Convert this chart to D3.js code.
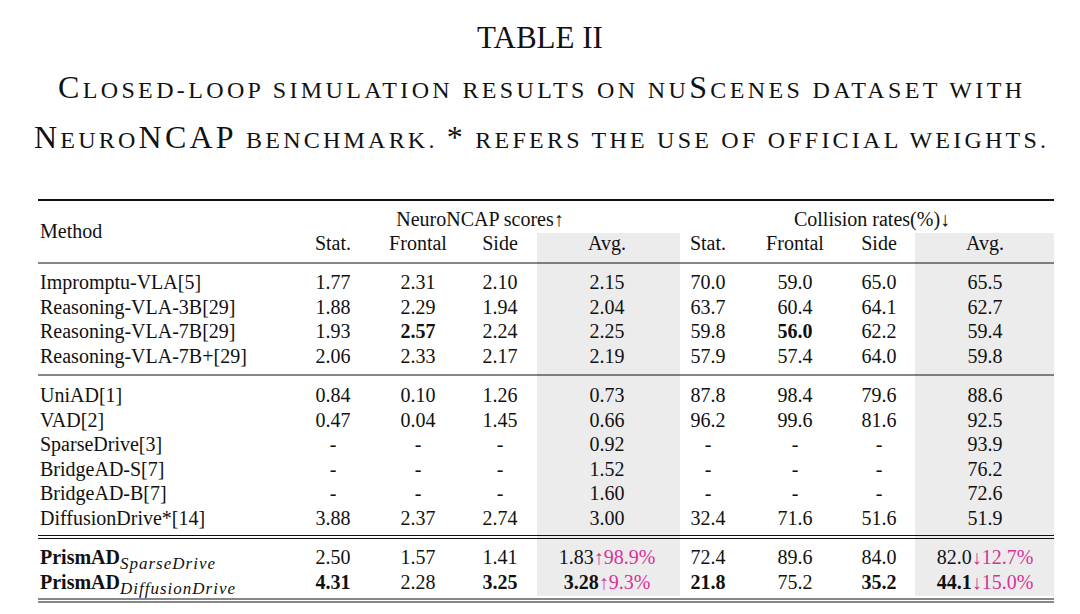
<!DOCTYPE html>
<html><head><meta charset="utf-8">
<script src="https://cdn.jsdelivr.net/npm/d3@7"></script>
<style>body{margin:0;background:#fff}text{font-family:"Liberation Serif","DejaVu Serif",serif;fill:#111}</style>
</head><body><svg id="c" width="1080" height="614"></svg>
<script>
const columns = ["Stat.", "Frontal", "Side", "Avg.", "Stat.", "Frontal", "Side", "Avg."];
const methods = ["Impromptu-VLA[5]", "Reasoning-VLA-3B[29]", "Reasoning-VLA-7B[29]", "Reasoning-VLA-7B+[29]",
  "UniAD[1]", "VAD[2]", "SparseDrive[3]", "BridgeAD-S[7]", "BridgeAD-B[7]", "DiffusionDrive*[14]",
  "PrismAD", "PrismAD"];
const subs = ["", "", "", "", "", "", "", "", "", "", "SparseDrive", "DiffusionDrive"];
const values = [
  ["1.77","2.31","2.10","2.15","70.0","59.0","65.0","65.5"],
  ["1.88","2.29","1.94","2.04","63.7","60.4","64.1","62.7"],
  ["1.93","2.57","2.24","2.25","59.8","56.0","62.2","59.4"],
  ["2.06","2.33","2.17","2.19","57.9","57.4","64.0","59.8"],
  ["0.84","0.10","1.26","0.73","87.8","98.4","79.6","88.6"],
  ["0.47","0.04","1.45","0.66","96.2","99.6","81.6","92.5"],
  ["-","-","-","0.92","-","-","-","93.9"],
  ["-","-","-","1.52","-","-","-","76.2"],
  ["-","-","-","1.60","-","-","-","72.6"],
  ["3.88","2.37","2.74","3.00","32.4","71.6","51.6","51.9"],
  ["2.50","1.57","1.41","1.83","72.4","89.6","84.0","82.0"],
  ["4.31","2.28","3.25","3.28","21.8","75.2","35.2","44.1"]
];
const bold = [[],[],[1,5],[],[],[],[],[],[],[],[],[0,2,3,4,6,7]];
const deltas = {10: {3: "↑98.9%", 7: "↓12.7%"}, 11: {3: "↑9.3%", 7: "↓15.0%"}};

const svg = d3.select("#c");
const L = 38, R = 1054;
const cx = [333, 418, 500, 607, 708, 795, 879, 985];
const colX = i => cx[i];
const rowY = i => i < 4 ? 282 + i * 24.5 : i < 10 ? 395 + (i - 4) * 24.6 : 557 + (i - 10) * 24.5;

// title
svg.append("text").attr("x", 540).attr("y", 48).attr("text-anchor", "middle").attr("font-size", 31).text("TABLE II");
function smallCaps(y, len, parts) {
  const t = svg.append("text").attr("x", 540).attr("y", y).attr("text-anchor", "middle")
    .attr("textLength", len).attr("lengthAdjust", "spacing");
  parts.forEach(p => t.append("tspan").attr("font-size", p[1] ? 32 : 24).text(p[1] ? p[0] : p[0].toUpperCase()));
}
smallCaps(98, 964, [["C",1],["losed-loop simulation results on nu"],["S",1],["cenes dataset with"]]);
smallCaps(148, 1012, [["N",1],["euro"],["NCAP",1],[" benchmark. "],["*",1],[" refers the use of official weights."]]);

// shading
[[537, 680], [915, 1054]].forEach(([a, b]) =>
  svg.append("rect").attr("x", a).attr("y", 233).attr("width", b - a).attr("height", 363).attr("fill", "#ececec"));
// rules
const rule = (y, w) => svg.append("line").attr("x1", L).attr("x2", R).attr("y1", y).attr("y2", y).attr("stroke", "#111").attr("stroke-width", w);
rule(200, 2.2); rule(263, 1.2); rule(375, 1.2); rule(535.5, 1.2); rule(538.5, 1.2); rule(599, 1.2); rule(602, 1.2);

const fs = 20;
svg.append("text").attr("x", L + 2).attr("y", 238).attr("font-size", fs).text("Method");
svg.append("text").attr("x", 480).attr("y", 226).attr("text-anchor", "middle").attr("font-size", fs).text("NeuroNCAP scores↑");
svg.append("text").attr("x", 872).attr("y", 226).attr("text-anchor", "middle").attr("font-size", fs).text("Collision rates(%)↓");
svg.selectAll("text.hd").data(columns).join("text").attr("class", "hd")
  .attr("x", (d, i) => colX(i)).attr("y", 250).attr("text-anchor", "middle").attr("font-size", fs).text(d => d);

methods.forEach((m, r) => {
  const y = rowY(r) + 7;
  const t = svg.append("text").attr("x", L + 2).attr("y", y).attr("font-size", fs);
  if (subs[r]) {
    t.append("tspan").attr("font-weight", "bold").text(m);
    t.append("tspan").attr("font-style", "italic").attr("font-size", 17).attr("dy", 5).attr("letter-spacing", 1).text(subs[r]);
  } else t.text(m);
  values[r].forEach((v, c) => {
    const d = deltas[r] && deltas[r][c];
    const tt = svg.append("text").attr("x", colX(c)).attr("y", y).attr("font-size", fs).attr("text-anchor", "middle");
    tt.append("tspan").attr("font-weight", bold[r].includes(c) ? "bold" : null).text(v);
    if (d) tt.append("tspan").style("fill", "#d8329a").text(d);
  });
});
</script></body></html>
